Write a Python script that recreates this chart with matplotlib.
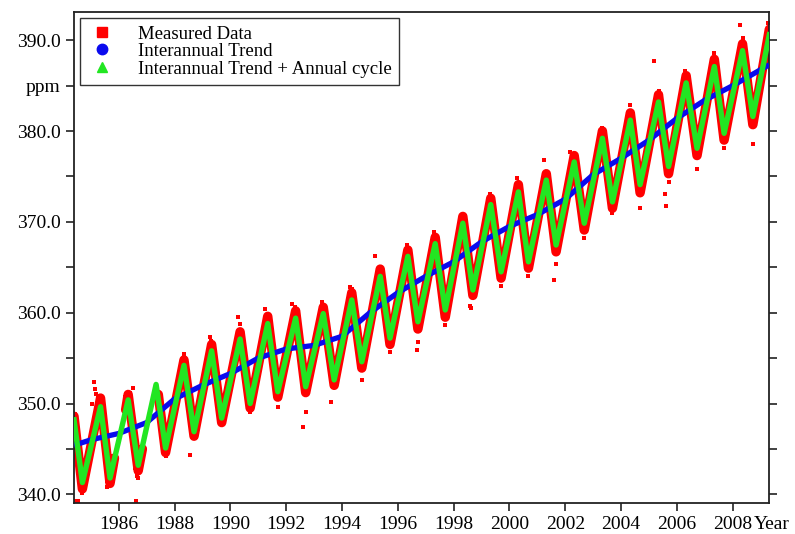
import matplotlib.pyplot as plt
from matplotlib.lines import Line2D
import numpy as np

plt.rcParams['font.family'] = ['Liberation Serif', 'DejaVu Serif']

# interannual trend (blue)
trend_year = [1984.40, 1985.0, 1986.0, 1987.0, 1988.0, 1989.0, 1990.0, 1991.0,
              1992.0, 1993.0, 1994.0, 1995.0, 1996.0, 1997.0, 1998.0, 1999.0,
              2000.0, 2001.0, 2002.0, 2003.0, 2004.0, 2005.0, 2006.0, 2007.0,
              2008.0, 2009.31]
trend_ppm = [345.4, 346.0, 346.7, 347.9, 350.5, 352.0, 353.3, 355.0,
             356.0, 356.4, 357.4, 360.0, 362.2, 364.0, 365.6, 367.8,
             369.5, 370.8, 372.5, 375.2, 377.0, 379.0, 381.4, 383.4,
             385.0, 387.3]

# trend + annual cycle (green), turning points
fit_year = [1984.40, 1984.70, 1985.35, 1985.69, 1986.34, 1986.70, 1987.34, 1987.68,
            1988.34, 1988.70, 1989.33, 1989.69, 1990.35, 1990.71, 1991.34, 1991.70,
            1992.34, 1992.70, 1993.33, 1993.72, 1994.35, 1994.71, 1995.37, 1995.72,
            1996.36, 1996.72, 1997.34, 1997.70, 1998.33, 1998.69, 1999.33, 1999.70,
            2000.32, 2000.68, 2001.32, 2001.67, 2002.32, 2002.68, 2003.33, 2003.69,
            2004.33, 2004.68, 2005.34, 2005.70, 2006.33, 2006.72, 2007.34, 2007.69,
            2008.35, 2008.72, 2009.31]
fit_ppm = [348.2, 341.3, 349.65, 341.8, 350.4, 343.2, 352.1, 345.1,
           354.2, 346.9, 355.8, 348.4, 357.1, 350.0, 358.8, 351.3,
           359.4, 351.85, 359.9, 352.6, 361.4, 354.6, 364.0, 357.2,
           366.2, 359.0, 367.6, 360.3, 369.85, 362.5, 371.9, 364.5,
           373.3, 365.6, 374.6, 367.45, 376.6, 369.85, 379.2, 372.2,
           381.2, 374.1, 383.2, 376.1, 385.3, 378.1, 387.1, 379.75,
           388.85, 381.6, 390.6]

# measured data, centre of the band (nan = gap in the record)
meas_year = [1984.40, 1984.70, 1985.35, 1985.69, 1985.85, np.nan,
             1986.25, 1986.34, 1986.70, 1986.85, np.nan,
             1987.42, 1987.68, 1988.34, 1988.70, 1989.33, 1989.69, 1990.35, 1990.71,
             1991.34, 1991.70, 1992.34, 1992.70, 1993.33, 1993.72, 1994.35, 1994.71,
             1995.37, 1995.72, 1996.36, 1996.72, 1997.34, 1997.70, 1998.33, 1998.69,
             1999.33, 1999.70, 2000.32, 2000.68, 2001.32, 2001.67, 2002.32, 2002.68,
             2003.33, 2003.69, 2004.33, 2004.68, 2005.34, 2005.70, 2006.33, 2006.72,
             2007.34, 2007.69, 2008.35, 2008.72, 2009.31]
meas_ppm = [348.6, 340.6, 350.6, 341.2, 344.0, np.nan,
            349.3, 351.0, 342.6, 345.0, np.nan,
            351.0, 344.6, 354.8, 346.4, 356.5, 347.9, 357.9, 349.5,
            359.6, 350.7, 360.2, 351.2, 360.6, 352.0, 362.2, 353.9,
            364.8, 356.5, 366.9, 358.2, 368.3, 359.5, 370.6, 361.9,
            372.6, 363.8, 374.1, 364.9, 375.3, 366.7, 377.3, 369.1,
            380.0, 371.5, 382.0, 373.2, 384.0, 375.3, 386.1, 377.3,
            387.9, 379.0, 389.6, 380.7, 391.2]

# single measurements sticking out of the band
out_year = [1984.42, 1984.45, 1984.44, 1984.50, 1984.55, 1984.68, 1984.72,
            1985.12, 1985.16, 1985.20, 1985.25, 1985.05, 1985.59, 1985.65,
            1986.52, 1986.40, 1986.70, 1986.61, 1986.66, 1987.68,
            1988.34, 1988.30, 1988.56, 1988.70, 1989.27, 1989.32, 1989.69,
            1990.29, 1990.35, 1990.71, 1991.24, 1991.32, 1991.70,
            1992.20, 1992.32, 1992.59, 1992.70, 1993.28, 1993.33, 1993.60,
            1994.29, 1994.35, 1994.71, 1995.19, 1995.35, 1995.72,
            1996.32, 1996.68, 1996.72, 1997.28, 1997.68, 1998.35, 1998.59,
            1998.64, 1998.69, 1999.31, 1999.70, 2000.27, 2000.68, 2001.22,
            2001.60, 2001.67, 2002.18, 2002.68, 2003.33, 2003.69, 2004.33,
            2004.68, 2005.17, 2005.34, 2005.58, 2005.60, 2005.70, 2006.30,
            2006.72, 2007.34, 2007.69, 2008.27, 2008.35, 2008.72, 2009.28]
out_ppm = [348.8, 348.0, 339.3, 339.3, 339.3, 340.1, 340.4,
           352.4, 351.6, 351.0, 350.8, 350.0, 340.8, 341.0,
           351.7, 351.2, 341.8, 339.3, 342.0, 344.2,
           355.4, 354.9, 344.3, 346.5, 357.3, 356.9, 347.8,
           359.5, 358.7, 349.1, 360.4, 359.8, 349.65,
           361.0, 360.6, 347.4, 349.1, 361.2, 360.9, 350.2,
           362.8, 362.6, 352.6, 366.2, 365.0, 355.7,
           367.45, 355.9, 356.8, 368.9, 358.6, 370.5, 360.7,
           360.5, 361.8, 373.1, 362.9, 374.8, 364.0, 376.8,
           363.6, 365.4, 377.7, 368.2, 380.3, 371.0, 382.9,
           371.5, 387.75, 384.4, 373.1, 371.7, 374.4, 386.6,
           375.8, 388.6, 378.1, 391.7, 390.2, 378.6, 391.9]

year_ticks = list(range(1986, 2009, 2))
ppm_ticks = list(range(340, 391, 5))
ppm_labels = ['340.0', '', '350.0', '', '360.0', '', '370.0', '', '380.0', 'ppm', '390.0']

red = '#ff0000'
blue = '#0a0aee'
green = '#22e622'

fig = plt.figure(figsize=(7.95, 5.34), dpi=100)
ax = fig.add_axes([0.0931, 0.0581, 0.8746, 0.9185])

ax.plot(meas_year, meas_ppm, color=red, lw=6.8, solid_joinstyle='round',
        solid_capstyle='round', zorder=2)
ax.plot(out_year, out_ppm, 's', color=red, ms=2.6, mew=0, zorder=2)
ax.plot(trend_year, trend_ppm, color=blue, lw=3.8, solid_capstyle='butt', zorder=3)
ax.plot(fit_year, fit_ppm, color=green, lw=3.9, solid_joinstyle='round', zorder=4)

ax.set_xlim(1984.40, 2009.31)
ax.set_ylim(339.05, 393.05)
ax.set_xticks(year_ticks)
ax.set_yticks(ppm_ticks)
ax.set_yticklabels(ppm_labels)
ax.tick_params(direction='out', length=6, width=1.2, labelsize=14, right=True,
               colors='#222222', labelcolor='black')
for s in ax.spines.values():
    s.set_linewidth(1.3)
    s.set_color('#222222')

ax.annotate('Year', xy=(0.978, 0), xycoords='axes fraction', xytext=(0, -9.5),
            textcoords='offset points', ha='left', va='top', fontsize=14)

handles = [Line2D([], [], ls='', marker='s', color=red, ms=7),
           Line2D([], [], ls='', marker='o', color=blue, ms=7.5),
           Line2D([], [], ls='', marker='^', color=green, ms=7.5)]
names = ['Measured Data', 'Interannual Trend', 'Interannual Trend + Annual cycle']
leg = ax.legend(handles, names, loc='upper left', bbox_to_anchor=(0.008, 0.989),
                fontsize=13.5, frameon=True, fancybox=False, handlelength=1.6,
                handletextpad=1.1, labelspacing=0.02, borderpad=0.4,
                borderaxespad=0.0, edgecolor='black')
leg.get_frame().set_linewidth(1.0)

fig.savefig('out.png', dpi=100)
